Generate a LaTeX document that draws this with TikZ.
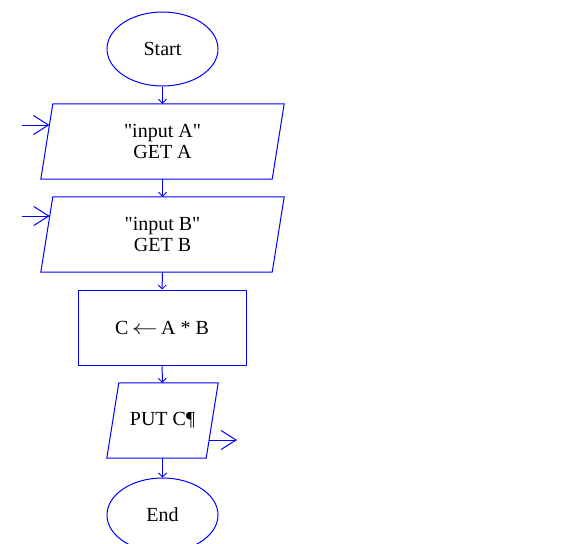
\documentclass[tikz,border=0pt]{standalone}
\usepackage{fontspec}
\setmainfont{Liberation Serif}[Ligatures=TeXOff]
\usetikzlibrary{shapes.geometric,arrows.meta,calc}
\definecolor{fblue}{RGB}{0,0,255}
\tikzset{
  line/.style={draw=fblue, line width=1pt},
  txt/.style={font=\fontsize{20}{21}\selectfont},
  term/.style={line, txt, ellipse, minimum width=111pt, minimum height=74pt, inner sep=0pt},
  iobox/.style={txt, minimum height=75pt, inner sep=0pt, align=center},
  procbox/.style={line, txt, rectangle, minimum width=168pt, minimum height=75pt, inner sep=0pt},
  flow/.style={line, -{Straight Barb[length=4pt,width=8pt,line width=0.8pt]}},
  sidearrow/.style={line, -{Straight Barb[length=15pt,width=19pt,line width=1pt]}}
}
\newcommand{\paraoutline}[1]{%
  \draw[line] ([xshift=6pt]#1.north west) -- ([xshift=6pt]#1.north east)
    -- ([xshift=-6pt]#1.south east) -- ([xshift=-6pt]#1.south west) -- cycle;}
\begin{document}
\begin{tikzpicture}[x=1pt,y=-1pt]
\clip (0,0) rectangle (580,543);
\node[term] (start) at (162.5,49) {Start};
\node[iobox, minimum width=231pt] (ina) at (162.5,141.5) {"input A"\\GET A};
\paraoutline{ina}
\node[iobox, minimum width=231pt] (inb) at (162.5,234.5) {"input B"\\GET B};
\paraoutline{inb}
\node[procbox] (calc) at (162,327.5) {C\,\scalebox{1.25}[1]{$\leftarrow$}\,A * B};
\node[iobox, minimum width=99pt] (out) at (162.5,420.5) {PUT C¶};
\paraoutline{out}
\node[term] (end) at (162.5,515) {End};
\coordinate (ina-in) at (22,125);
\coordinate (inb-in) at (22,216);
\coordinate (out-out) at (237,440);
\draw[flow] (start) -- (ina);
\draw[flow] (ina) -- (inb);
\draw[flow] (inb) -- (calc);
\draw[flow] (calc) -- (out);
\draw[flow] (out) -- (end);
\draw[sidearrow] (ina-in) -- ($(ina.west)+(2.6,-16.5)$);
\draw[sidearrow] (inb-in) -- ($(inb.west)+(2.9,-18.5)$);
\draw[sidearrow] ($(out.east)+(-3.1,19.5)$) -- (out-out);
\end{tikzpicture}
\end{document}
